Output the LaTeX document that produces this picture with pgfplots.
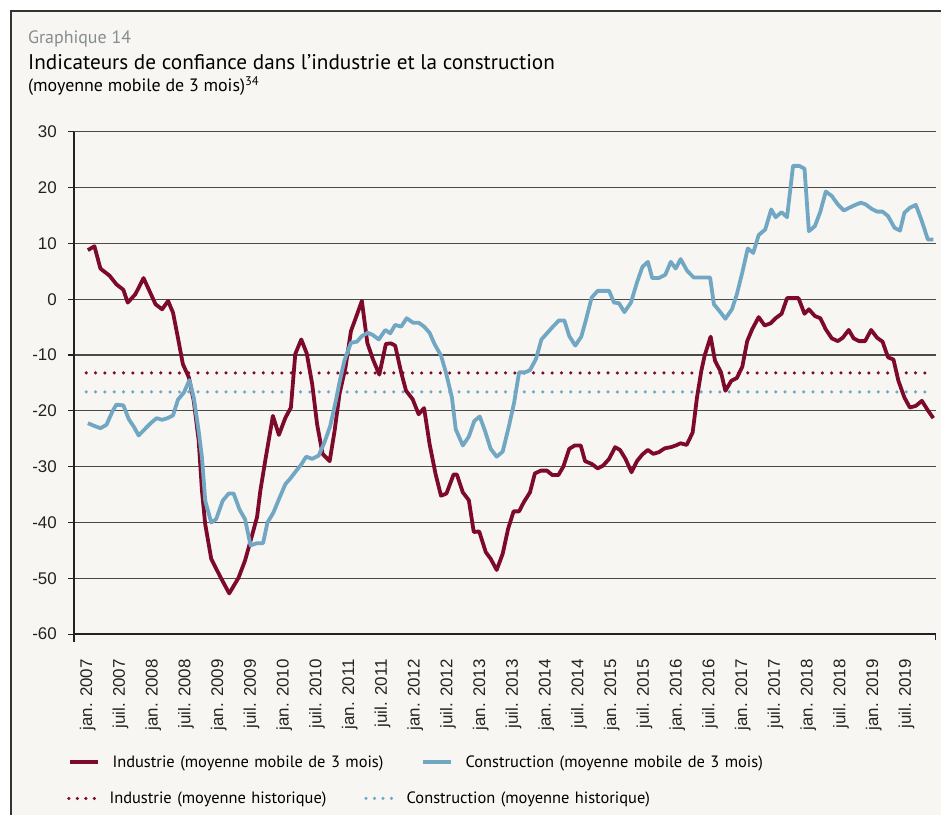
\documentclass[border=0pt]{standalone}
\usepackage{pgfplots}
\pgfplotsset{compat=1.18}
\usepackage{fontspec}
\setmainfont{PT Sans}
\newfontfamily\tickfont{Liberation Sans}
\definecolor{bg}{HTML}{F7F6F2}
\definecolor{ired}{HTML}{7D0A2A}
\definecolor{cblue}{HTML}{72A7C4}
\definecolor{gridc}{HTML}{4A4A4A}
\definecolor{axc}{HTML}{222222}
\definecolor{titlegray}{HTML}{858D91}
\definecolor{framec}{HTML}{333333}

\pgfplotstableread{
x y
0 8.8
1.2 9.5
2.3 5.5
4 4.2
5.2 2.7
6.5 1.7
7.3 -0.6
8.7 0.9
10.2 3.8
12.4 -0.9
13.6 -1.8
14.7 -0.3
15.6 -2.4
16.5 -6.9
17.4 -11.6
18.5 -14
19.4 -18.2
20.3 -25.3
20.9 -34.3
21.5 -40.3
22.6 -46.5
24.3 -49.8
25.9 -52.7
27.6 -49.9
28.8 -46.8
30 -42.6
31 -39
31.6 -34.3
32.5 -28.9
33.9 -20.9
35 -24.3
36.2 -21.2
37.2 -19.4
38 -9.8
39.1 -7.2
40.1 -9.7
41.1 -15.2
42 -22.4
43 -27.7
44.3 -29.0
45.2 -23.6
46.1 -17
47.2 -12.2
48.2 -5.7
49.1 -3.3
50.2 -0.3
51.2 -7.8
52.2 -10.7
53.4 -13.5
54.6 -8.0
55.5 -7.9
56.3 -8.3
57.4 -13.1
58.3 -16.4
59.5 -17.9
60.6 -20.6
61.6 -19.5
62.6 -25.9
63.7 -31.3
64.7 -35.2
65.7 -34.8
67 -31.4
67.6 -31.4
68.7 -34.6
69.8 -36
70.7 -41.7
71.7 -41.6
72.9 -45.3
73.8 -46.5
74.9 -48.5
76 -45.6
77 -41.1
78 -38
79 -38
79.9 -36.3
81 -34.6
81.9 -31.2
83 -30.7
84.1 -30.7
85.1 -31.5
86.2 -31.5
87.1 -30
88.2 -26.8
89.2 -26.2
90.3 -26.2
91.1 -29
92.3 -29.5
93.4 -30.3
94.4 -29.8
95.5 -28.6
96.6 -26.5
97.5 -27
98.5 -28.6
99.6 -31
100.6 -29
101.6 -27.8
102.6 -27
103.6 -27.7
104.6 -27.4
105.7 -26.7
106.8 -26.5
107.7 -26.2
108.6 -25.8
109.7 -26.1
110.8 -23.9
111.6 -17.6
112.4 -12.8
113 -10.1
114.1 -6.7
114.9 -11.0
116 -13.1
116.8 -16.4
117.9 -14.6
118.9 -14.1
119.9 -12.1
120.8 -7.5
121.7 -5.4
122.9 -3.2
124 -4.7
125.1 -4.3
126 -3.4
127.1 -2.6
128.1 0.2
129.1 0.2
130.2 0.2
131.3 -2.6
132.1 -1.8
133.2 -3
134.2 -3.4
135.2 -5.4
136.3 -7.0
137.4 -7.5
138.3 -6.9
139.4 -5.5
140.3 -7.0
141.3 -7.5
142.4 -7.5
143.5 -5.5
144.6 -6.9
145.6 -7.6
146.6 -10.4
147.6 -10.8
148.5 -14.6
149.6 -17.6
150.6 -19.4
151.7 -19.1
152.8 -18.2
153.9 -19.9
154.9 -21.3
}\industrie

\pgfplotstableread{
x y
0 -22.2
1.2 -22.7
2.3 -23.1
3.4 -22.5
4.5 -20.1
5.2 -18.9
6.5 -19
7.5 -21.5
8.4 -22.8
9.3 -24.4
10.4 -23.3
11.5 -22.2
12.6 -21.3
13.6 -21.6
14.6 -21.3
15.6 -20.8
16.5 -18
17.6 -16.7
18.6 -14.5
19.4 -17.6
20.3 -23.6
20.9 -28.3
21.5 -36.1
22.6 -40
23.5 -39.4
24.7 -36.1
25.8 -34.8
26.7 -34.8
27.8 -37.7
28.8 -39.4
29.8 -44.1
31 -43.7
32.1 -43.7
32.9 -40
34 -38.2
35.1 -35.6
36.2 -33.1
37.1 -32.1
38.2 -30.7
39.1 -29.6
40 -28.2
41.1 -28.6
42.3 -28
43.4 -25.5
44.4 -22.7
45.3 -18.8
46.1 -14.9
47 -11
48.2 -7.8
49.3 -7.6
50.2 -6.6
51.3 -6
52.2 -6.4
53.3 -7.2
54.5 -5.5
55.4 -6.1
56.3 -4.6
57.4 -4.9
58.4 -3.4
59.6 -4.2
60.6 -4.2
61.6 -4.9
62.6 -6
63.5 -8
64.7 -10.1
65.6 -13.1
66.7 -17.6
67.4 -23.3
68.7 -26.2
69.8 -24.6
70.8 -21.8
71.8 -21
72.8 -23.7
73.8 -26.8
74.9 -28.2
76 -27.3
77.2 -22.5
78.1 -18.5
79 -13.1
80.1 -13.1
81 -12.7
82.1 -10.7
83.1 -7.2
84.2 -6
85.3 -4.8
86.3 -3.8
87.3 -3.8
88.2 -6.6
89.3 -8.3
90.4 -6.7
91.2 -3.9
92.3 0.3
93.4 1.5
94.4 1.5
95.5 1.5
96.4 -0.6
97.3 -0.7
98.3 -2.3
99.5 -0.6
100.6 3.0
101.6 5.8
102.6 6.7
103.4 3.8
104.6 3.8
105.8 4.4
106.8 6.7
107.7 5.5
108.6 7.2
109.8 5.1
111 3.9
112 3.9
113 3.9
114 3.9
114.7 -0.9
115.8 -2.2
116.8 -3.5
118 -1.8
118.9 0.9
119.9 4.8
120.9 9.1
121.9 8.3
122.9 11.5
124.1 12.5
125.2 16.1
126 14.7
127.1 15.6
128.1 14.7
129.2 23.9
130.3 23.9
131.3 23.4
132.1 12.2
133.2 13.1
134.2 15.7
135.2 19.3
136.3 18.5
137.4 17
138.5 15.9
139.5 16.4
140.6 16.9
141.6 17.3
142.5 17
143.6 16.2
144.6 15.7
145.6 15.7
146.6 14.9
147.8 12.8
148.8 12.3
149.6 15.5
150.6 16.4
151.7 16.9
152.8 14
153.9 10.7
154.9 10.7
}\construction

\begin{document}
\begin{tikzpicture}[x=1bp,y=1bp]
\fill[white] (0,0) rectangle (942,816);
\fill[bg] (11,0) rectangle (942,805);
\draw[line width=2.5bp, framec] (11,0) -- (11,805) -- (942,805);
\node[anchor=base west, inner sep=0pt, text=titlegray, font=\fontsize{18}{20}\selectfont] at (28,772) {Graphique 14};
\node[anchor=base west, inner sep=0pt, font=\fontsize{21.3}{24}\selectfont] at (28,746) {Indicateurs de confiance dans l’industrie et la construction};
\node[anchor=base west, inner sep=0pt, font=\fontsize{18}{19}\selectfont] at (28,724) {(moyenne mobile de 3 mois)\textsuperscript{34}};

\begin{axis}[
  at={(74bp,181bp)}, anchor=south west,
  width=863bp, height=503bp, scale only axis,
  xmin=-2.56, xmax=155.35, ymin=-60, ymax=30,
  ytick={-60,-50,...,30},
  xtick={0,6,...,150},
  xticklabels={jan. 2007,juil. 2007,jan. 2008,juil. 2008,jan. 2009,juil. 2009,jan. 2010,juil. 2010,jan. 2011,juil. 2011,jan. 2012,juil. 2012,jan. 2013,juil. 2013,jan. 2014,juil. 2014,jan. 2015,juil. 2015,jan. 2016,juil. 2016,jan. 2017,juil. 2017,jan. 2018,juil. 2018,jan. 2019,juil. 2019},
  x tick label style={rotate=90, anchor=east, inner sep=0pt, font=\tickfont\fontsize{17}{17}\selectfont, text=axc},
  y tick label style={inner sep=0pt, font=\tickfont\fontsize{17}{17}\selectfont, text=axc},
  /pgf/number format/assume math mode=true,
  xticklabel shift=19bp,
  yticklabel shift=11bp,
  axis x line*=bottom, axis y line*=left,
  axis line style={line width=1.4bp, axc},
  ymajorgrids, grid style={gridc, line width=1.2bp},
  tick align=outside, major tick length=6bp,
  xtick style={draw=none},
  ytick style={axc, line width=1.2bp},
  clip=false,
  legend columns=2,
  legend style={at={(axis description cs:-0.00695,-0.2545)}, anchor=west, draw=none, fill=none, inner sep=0pt,
    font=\fontsize{16.5}{19}\selectfont,
    nodes={inner sep=0pt, text width=309bp, align=left},
    /tikz/every odd column/.append style={column sep=12bp}},
  legend image code/.code={\draw[#1, line width=4.5bp] (0bp,0bp) -- (28bp,0bp);},
]
\addplot[ired, line width=3.5bp, line cap=round, dash pattern=on 0pt off 9.33bp, forget plot] coordinates {(-0.3,-13.2) (154.6,-13.2)};
\addplot[cblue, line width=3.5bp, line cap=round, dash pattern=on 0pt off 9.33bp, forget plot] coordinates {(-0.3,-16.6) (154.6,-16.6)};
\addplot[ired, line width=3.8bp, line join=round] table[x=x,y=y] {\industrie};
\addlegendentry{Industrie (moyenne mobile de 3 mois)}
\addplot[cblue, line width=3.8bp, line join=round] table[x=x,y=y] {\construction};
\addlegendentry{Construction (moyenne mobile de 3 mois)}
\draw[axc, line width=1.4bp] (axis cs:-2.56,-60) -- ([yshift=-8bp]axis cs:-2.56,-60);
\draw[axc, line width=1.2bp] (axis cs:155.35,-60) -- ([yshift=-6bp]axis cs:155.35,-60);
\end{axis}

\begin{axis}[
  at={(74bp,181bp)}, anchor=south west,
  width=863bp, height=503bp, scale only axis,
  xmin=0, xmax=1, ymin=0, ymax=1, hide axis,
  legend columns=2,
  legend style={at={(axis description cs:-0.0081,-0.3270)}, anchor=west, draw=none, fill=none, inner sep=0pt,
    font=\fontsize{16.5}{19}\selectfont,
    nodes={inner sep=0pt, text width=255bp, align=left},
    /tikz/every odd column/.append style={column sep=13bp}},
  legend image code/.code={\draw[#1] (2bp,0bp) -- (28bp,0bp);},
]
\addlegendimage{ired, line width=3.5bp, line cap=round, dash pattern=on 0pt off 8.5bp}
\addlegendentry{Industrie (moyenne historique)}
\addlegendimage{cblue, line width=3.5bp, line cap=round, dash pattern=on 0pt off 8.5bp}
\addlegendentry{Construction (moyenne historique)}
\end{axis}
\end{tikzpicture}
\end{document}
